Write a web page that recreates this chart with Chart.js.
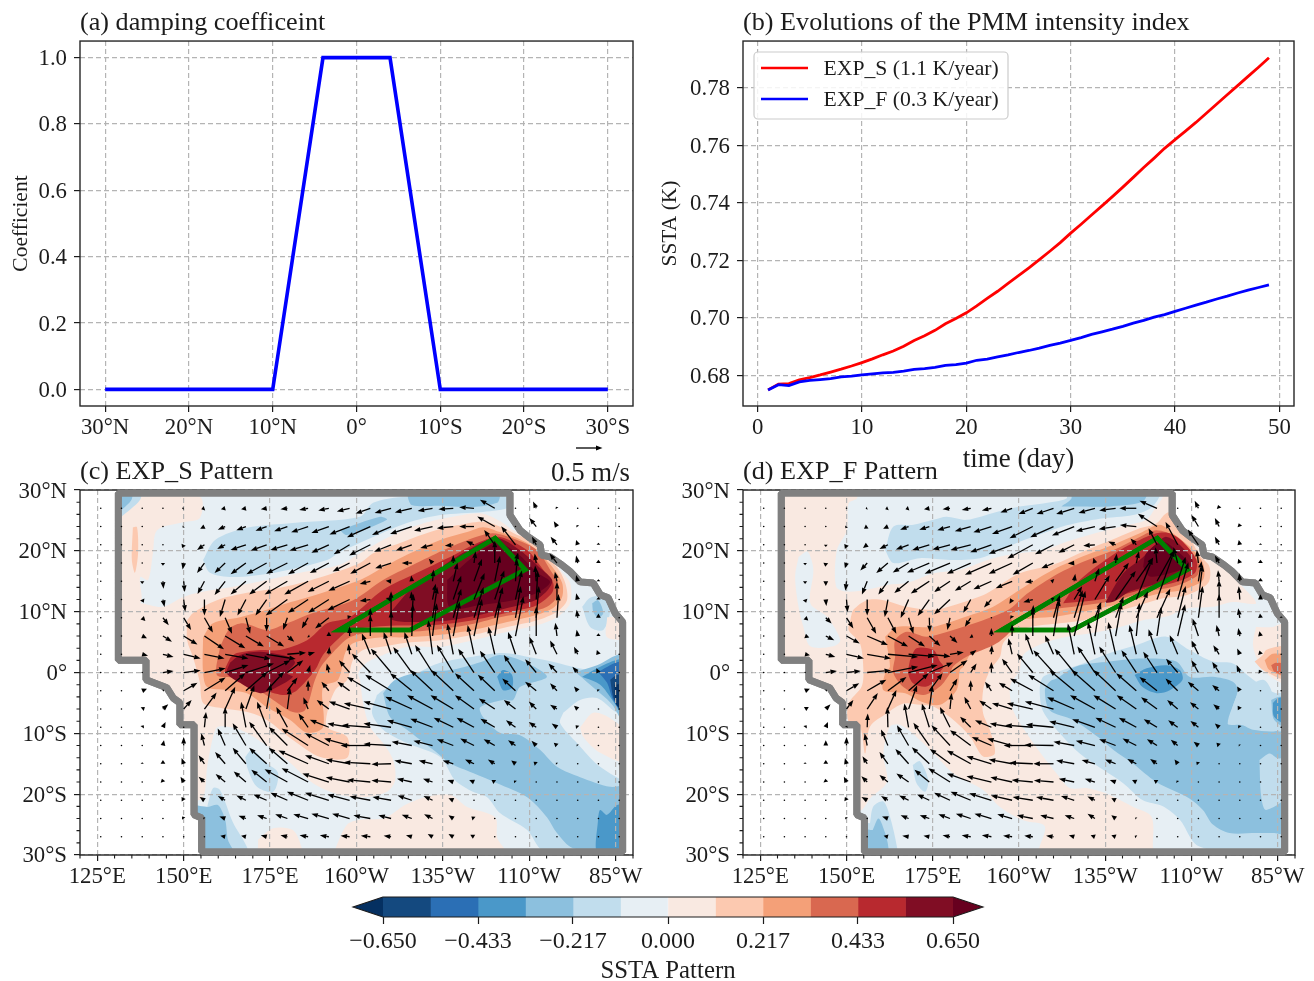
<!DOCTYPE html>
<html><head><meta charset="utf-8">
<script src="https://cdn.jsdelivr.net/npm/chart.js@4/dist/chart.umd.min.js"></script>
<style>
html,body{margin:0;padding:0;background:#fff;overflow:hidden}
#page{position:relative;width:1314px;height:981px;overflow:hidden}
canvas{position:absolute}
</style></head><body><div id="page">
<canvas id="pa" style="left:0;top:0" width="657" height="449"></canvas>
<canvas id="pb" style="left:657px;top:0" width="657" height="480"></canvas>
<canvas id="pc" style="left:0;top:440px" width="657" height="455"></canvas>
<canvas id="pd" style="left:657px;top:440px" width="657" height="455"></canvas>
<canvas id="pe" style="left:0;top:885px" width="1314" height="101"></canvas>
</div>
<script>
// ---------- panel (a)
const DAMP_LAT=[30,10,4,-4,-10,-30];
const DAMP_COEF=[0,0,1,1,0,0];
const LAT_TICKS_A=[30,20,10,0,-10,-20,-30];
const COEF_TICKS=[0,0.2,0.4,0.6,0.8,1.0];
// ---------- panel (b)
const DAYS=[1,2,3,4,5,6,7,8,9,10,11,12,13,14,15,16,17,18,19,20,21,22,23,24,25,26,27,28,29,30,31,32,33,34,35,36,37,38,39,40,41,42,43,44,45,46,47,48,49];
const EXP_S=[.6750,.6770,.6772,.6785,.6793,.6802,.6812,.6822,.6833,.6845,.6858,.6872,.6885,.6902,.6922,.6938,.6957,.6980,.6998,.7018,.7042,.7068,.7093,.7120,.7147,.7174,.7203,.7232,.7262,.7295,.7326,.7358,.7390,.7422,.7455,.7489,.7523,.7556,.7590,.7620,.7650,.7680,.7712,.7744,.7776,.7808,.7840,.7872,.7905];
const EXP_F=[.6750,.6768,.6765,.6778,.6783,.6786,.6789,.6795,.6798,.6802,.6806,.6809,.6811,.6815,.6821,.6824,.6828,.6835,.6838,.6843,.6853,.6857,.6865,.6872,.6880,.6887,.6895,.6905,.6913,.6922,.6932,.6943,.6952,.6961,.6971,.6982,.6992,.7003,.7012,.7023,.7034,.7045,.7055,.7066,.7076,.7087,.7097,.7106,.7115];
const DAY_TICKS=[0,10,20,30,40,50];
const SSTA_TICKS=[.68,.70,.72,.74,.76,.78];
const LEGEND_LABELS=['EXP_S (1.1 K/year)','EXP_F (0.3 K/year)'];
// ---------- maps
const LON_TICKS=[125,150,175,200,225,250,275];
const LON_MINOR=[120,130,135,140,145,155,160,165,170,180,185,190,195,205,210,215,220,230,235,240,245,255,260,265,270,280];
const LAT_TICKS=[30,20,10,0,-10,-20,-30];
const LAT_MINOR=[28,26,24,22,18,16,14,12,8,6,4,2,-2,-4,-6,-8,-12,-14,-16,-18,-22,-24,-26,-28];
const OUTLINE=[131.1,29.5,131.1,2,139.1,2,139.1,-1.2,145.1,-2.5,147,-4.2,148.9,-5,148.9,-8.6,153,-8.6,153,-23.4,155.2,-23.9,155.2,-29.5,277,-29.5,277,8.3,274.8,9.8,272.8,12.3,270.5,12.8,268.5,14.7,264.7,14.9,261.8,16.6,259.4,17.7,256,19,253.6,19.3,253.1,21,249.7,22.3,247.3,23.4,245.9,24.6,244.4,25.9,244.4,29.5,131.1,29.5];
const BOX=[120,30,280,30,280,-30,120,-30,120,30];
const GREEN_BOX=[195,7,215.5,7,248.8,16.9,240.1,22.1,195,7,215.5,7];
// colour bins: index 0 = below -0.65 ... 13 = above 0.65
const BIN_COLORS=['#053061','#14497f','#2b6fb5','#4a98c9','#8cc0de','#c1dded','#e7eff4','#f9e9e1','#fcc9b0','#f4a078','#d96850','#b8292f','#800d24','#67001f'];
const LEVELS=[-0.65,-0.5417,-0.4333,-0.325,-0.2167,-0.1083,0,0.1083,0.2167,0.325,0.4333,0.5417,0.65];
const CB_TICKS=[-0.65,-0.4333,-0.2167,0,0.2167,0.4333,0.65];
const CB_LABELS=['\u22120.650','\u22120.433','\u22120.217','0.000','0.217','0.433','0.650'];
// contour regions: [bin, [lon,lat,...]] painted in order
const CONTOURS_C=[
[7,[128,28.4,137.4,28.9,154.7,28.9,154.7,25.4,149.8,24.7,142.3,23.4,141.1,19.6,139.7,15.2,137.4,15.7,137.4,11.4,128,11.4]],
[7,[128,11.5,137.4,11.4,144,10.8,149.8,12.4,154.7,13.2,164.3,14.1,174.1,15.2,183.7,16.4,195.2,17.7,201,19.6,207.7,21.8,215.5,23.8,223.3,25.1,230.8,25.9,236.6,26.1,242.4,24.6,245.3,23.4,251.7,21.8,256,20.1,258.9,16.9,261.8,14.7,261.8,11.4,258,9.1,252.3,7.8,243.6,6.7,233.7,5.3,224.2,4.2,214.6,4.2,207.7,2.9,203.1,1.7,200.5,-0.1,201,-1.2,201.9,-5,203.9,-8.9,207.7,-11.6,210.6,-14.4,211.2,-17.7,208.8,-19.6,201.9,-20.5,195.2,-20.1,187.4,-18.2,179.9,-14.4,173,-11.6,166.3,-9.4,159.9,-8.9,158.5,-10.6,156.8,-15.5,155.6,-20.5,151.8,-21,150.4,-8.6,146,-4.5,137.4,0.4,128,2]],
[7,[193.8,-30.5,193.8,-29.2,197.3,-25,201,-24.2,208.3,-23.9,214,-21.8,219.8,-20.5,227.1,-20.1,232,-22.1,240.1,-23.8,240.7,-27.2,243,-29.2,243,-30.5]],
[7,[171.5,-27.5,175.9,-25.6,181.6,-25.9,184.2,-28.9,184.2,-30.5,172.1,-30.5]],
[5,[155.6,18.5,159.1,21.8,168.3,23.8,181.6,24.6,201,25.6,204.8,27.9,214.6,28.9,243.6,28.9,244.4,27.2,236.6,26.4,224.2,25.9,214.6,24.6,204.8,22.3,195.2,19.8,191.5,18.5,177,16.5,164.3,15.7,157.6,16.4]],
[4,[214.9,30,214.9,28.7,216.1,27.5,224.2,27.4,233.7,27.2,240.7,27.9,241.5,28.9,241.5,30]],
[4,[195.2,23.4,206.8,25.6,208.8,25.1,197.3,22.6]],
[5,[132,25.6,137.4,28.4,137.4,30,128,30,128,25.6]],
[4,[132,26.7,134.9,28.4,134.9,30,128,30,128,26.7]],
[8,[135.3,23.9,136.5,23.9,136.8,19.6,135.9,16.4,135,18.5]],
[5,[205.9,-3.7,207.7,-2.9,217.5,-0.1,224.2,1.6,233.7,2.6,242.4,3.2,250.2,2.5,258,1.6,262.7,0.9,269.6,0.4,275.4,2.6,279.2,2.6,279.2,-30,254,-29.2,249.4,-25.9,241.5,-23.1,237.8,-20.5,233.7,-19.6,228.5,-17.7,224.2,-13.9,214.6,-11.6,207.7,-9.4,204.5,-6.7]],
[6,[259.8,-6.6,264.7,-4.5,269.6,-4.2,275.4,-6.6,279.2,-6.6,279.2,-17.7,270.5,-15.5,263.8,-11.6,258.9,-8.3]],
[7,[264.7,-9,268.5,-6.6,273.4,-7.5,279.2,-10.6,279.2,-14.9,270.5,-13.2,265.6,-10.6]],
[4,[207.7,-3.4,211.2,-1.2,218.4,0.1,227.1,0.4,235.8,1.7,241.5,2.9,248.8,1.7,255.1,-0.7,247.3,-2.4,245.3,-4.5,242.4,-4.5,235.8,-5.7,236.6,-7.3,241.5,-9.9,247.3,-10.3,253.1,-12.7,258,-15.5,264.7,-17.2,273.4,-18.8,279.2,-18.8,279.2,-30,262.7,-28.9,258,-26.4,255.1,-23.8,249.4,-20.5,240.7,-18.2,233.7,-16.5,227.1,-14.9,222.2,-12.7,214.6,-9.4,209.7,-7.3]],
[3,[240.7,-0.7,242.4,0.4,245,-0.4,245,-2.5,242.4,-2.9]],
[3,[269.9,-23.8,270.5,-22.6,272.5,-23.4,275.4,-21.8,279.2,-21.8,279.2,-30,269.9,-30]],
[4,[263.3,0.1,269.6,1.2,275.4,2.9,279.2,2.9,279.2,-10.3,274,-5.3,267.6,-2]],
[3,[265.3,-0.7,269.6,0.7,275.4,2.1,279.2,2.1,279.2,-8.6,274,-4.5,270.5,-2]],
[2,[269.9,0.1,275.4,1.7,279.2,1.7,279.2,-8.1,274.3,-4.5,272.5,-1.7]],
[1,[273.4,-1.2,275.4,-0.4,279.2,-0.4,279.2,-7.8,274.6,-4.5]],
[0,[274.6,-2,279.2,-2,279.2,-7,275.2,-5.3]],
[5,[265.3,10.8,267.6,12.3,271.4,12.4,273.4,10.3,271.4,7,267.6,7.5]],
[4,[268.2,11.4,269.9,11.9,271.4,9.8,269.9,9,268.5,10]],
[7,[272.5,9.1,279.2,9.1,279.2,5.7,272.5,5.8]],
[5,[156.8,-22.1,158.5,-19,160.5,-19.3,164.3,-24.7,168.3,-28.7,168.3,-30.5,150,-30.5,150,-22.1]],
[4,[157,-22.1,159.9,-21.8,162,-24.2,162.8,-27.5,164.9,-30.5,150,-30.5,150,-22.1]],
[5,[167.8,-13.9,169.8,-12.7,174.1,-14.9,177.3,-16.5,175.9,-19.6,171.2,-18.8,168.6,-16]],
[8,[151,8.6,152.7,9.8,159.6,11.9,168.3,13.1,174.1,13.6,181.6,14.4,191.5,16,201,18,204.8,19.6,212.6,21.3,221.3,23.1,229.1,24.2,236.6,24.8,242.4,23.8,246.5,22.6,250.2,21.8,258,17.3,260.4,14.7,260.9,11.9,258,10,252.3,8.6,243.6,7.5,233.7,6.2,224.2,5.3,214.6,4.9,206.8,4.2,201.9,3.7,199,2.1,197.3,-1.2,193.8,-2.9,191.5,-6.7,191.5,-9,197.3,-10.6,197.3,-14,189.5,-13.9,181.6,-11.1,174.1,-7.8,169.2,-6.6,160.5,-5.8,155.6,-5,154.7,-1.7,152.7,2.5,151,5.3]],
[9,[155.6,5.8,158.5,8.1,166.3,9.1,172.1,10,179.9,11.4,189.5,13,201,15.2,207.7,17.3,215.5,19.6,224.2,21.8,232,23.1,236.6,23.9,241.5,23.1,246.5,22.1,251.1,20.6,256.9,17.2,259.5,14.7,259.5,12.4,256.9,10.6,252.3,9.5,243.6,8.3,233.7,7,224.2,6.2,214.6,5.8,206,5.7,199,4.8,196.7,3.2,194.7,-1.2,190.3,-2.4,190.3,-9,185.7,-9.9,180.8,-7.8,174.1,-5.7,168.3,-3.4,162.5,-2.9,156.8,-2.4,155.6,0.1]],
[10,[160.5,4.2,163.4,7.3,167.2,8.1,174.1,7,179.9,8.1,187.4,9.8,199,11.9,207.7,15.2,216.4,17.7,225.1,20.1,233.7,22.1,239.5,22.9,246.5,21.8,252.3,20.1,256,16.9,258.3,14.7,258,12.4,255.1,10.8,250.2,10,241.5,9.1,232,7.8,222.2,7,214.6,6.7,204.8,6.7,198.1,5.8,195.2,4.5,190,1.2,188,-1.2,185.1,-6.2,181.6,-6.5,175.9,-4.5,173,-3.4,164.9,-0.9,159.6,-0.4]],
[11,[163.4,2.4,165.4,3.2,172.1,3.7,177.9,3.7,185.7,5.3,191.5,8.1,198.1,9.1,207.7,13.6,217.5,16.4,227.1,19,235.8,21.5,241.5,22.3,249.4,20.1,254,16.9,256.9,14.7,256.6,13.1,252.3,11.1,247.3,10.3,233.7,8.6,222.2,7.8,209.7,7.7,198.1,7,195.2,5.8,190.3,2.9,188,0.4,182.8,-2.9,179.3,-3.7,173.5,-2.9,166.3,-1.2,162,0.1]],
[12,[209.7,9.8,216.4,14.1,226.2,18,233.7,20.6,240.7,22.1,247.3,20.1,253.1,17.2,256.6,15.2,255.4,13.6,251.7,11.9,243.6,10.6,235.8,9.5,227.1,8.6,217.5,8.3,210.6,8.6]],
[13,[226.2,15.2,233.7,19,240.7,21.3,246.5,19.6,252.3,16.4,256,14.9,252.3,13.1,245.3,11.9,235.8,11.1,227.1,10.6]],
[12,[163.4,1.6,166.3,2.9,172.1,3.4,180.8,2.5,182.2,1.6,179.9,-0.1,181.6,-0.7,177,-2.4,172.1,-3.4,166.3,-1.7,162.5,-0.1]]
];
const CONTOURS_D=[
[7,[128,30,153,30,153,28.6,150.6,27.8,150.1,23.4,147.2,20.1,147,14.1,150.1,13.3,155.9,13.6,161.7,14.4,167.5,14.7,175.2,16.3,182.9,16.9,192.5,18.8,200.2,19.6,207,20.1,213.8,21.5,223.4,23.1,231.1,24.2,236.9,25.1,239.8,27.3,241.7,28.9,241.7,30,245.6,30,246.6,25.1,254.3,19,262,16.3,263.9,14.7,268.7,11.4,262,11.6,256.2,10.8,248.5,10.5,242.7,9.2,235.9,8.6,228.2,7.3,220.5,6.4,213.8,5.9,207,4.8,201.2,2.9,200.2,0.4,197.4,-2.3,198.3,-6.2,202.2,-10,207,-13.8,210.9,-16.6,214.7,-19,219.5,-19,225.3,-19.9,233.1,-22.1,238.4,-23.7,238.8,-28.6,238.8,-30.3,206,-30.3,207.5,-25.3,201.2,-24.3,194.5,-22.1,189.6,-19.3,181,-16.6,176.1,-13.8,170.3,-10.6,165.5,-8.6,162.6,-8.9,160.7,-13.3,161.7,-18,156.8,-20.7,154.4,-22.6,152,-22.6,151.5,-8.9,149.1,-5.1,137.5,-0.7,130.8,0.4,128,2]],
[6,[136.1,19,138.7,19.9,140.4,16.9,139.5,11.4,144.3,9.2,148.2,5.3,146.2,4.3,139.5,4.3,137.5,7.5,136.1,10.8,135.1,15.8]],
[5,[161.2,20.1,163.6,24,169.4,24.3,175.2,25.1,179,25.6,184.8,25.1,193.5,26.4,200.2,27.3,207,27.8,213.8,28.6,213.8,30,240.8,30,238.8,27.3,233.1,25.9,223.4,25.3,213.8,24.2,207,22.9,200.2,21.5,194.5,20.1,188.7,18.8,180,18.5,171.3,18.8,163.6,18]],
[4,[212.3,27.3,215.2,28.6,215.2,30,236.9,30,235.9,28.1,226.3,27.3,218.6,27.3]],
[5,[210.9,0.1,218.6,1.5,226.3,3.2,234,4.5,242.7,5.9,249.4,3.7,256.2,1.8,262,1.5,266.8,-0.7,270.7,-2.3,274.5,-3.4,278.4,-3.4,278.4,-30.3,252.3,-28.6,246.6,-24.2,241.7,-22,235.9,-21,230.2,-18.2,224.4,-16,217.6,-13.3,212.8,-10.6,207,-6.4,206,-2.9,207,-0.7]],
[4,[210.9,-1,216.6,1,226.3,1.8,235.9,2.3,245.6,1.8,249.4,-0.7,256.2,-0.7,262,-1.5,263.4,-2.9,260.5,-8.4,263.9,-8.6,275.5,-9.7,278.4,-9.7,278.4,-26.4,273.6,-26.4,268.7,-26.4,261,-26.4,256.2,-25,253.3,-22.6,249.4,-20.7,239.8,-18,233.1,-15,227.3,-12.7,223.4,-10.8,215.7,-7.8,208.9,-6.2,207.5,-2.9,208.9,-1.5]],
[5,[260.5,-8.4,263,-4,264.9,-2.9,270.7,-1.2,273.1,-2.9,273.6,-6.2,275.5,-9.4,267.8,-9.4,263.9,-8.4]],
[5,[269.7,-14.4,272.6,-13.3,275,-14.1,278.4,-14.1,278.4,-19.9,271.6,-22.6,270.2,-20.4]],
[4,[273.1,-4.5,275.5,-4,278.4,-4,278.4,-9.2,274,-7.8]],
[3,[273.6,-5,275.3,-4.2,278.4,-4.2,278.4,-8.6,274,-7.3]],
[3,[233.5,-0.4,237,0.7,242.8,1.2,246.6,0.4,247.4,-1.2,243.7,-2.9,239.9,-3.4,235.8,-2.4]],
[5,[156.8,-24.8,157.8,-22,160.7,-21.2,162.6,-23.7,164.6,-28.6,164.6,-30.3,153.9,-30.3,153.9,-24.8]],
[4,[157.6,-25.9,159.3,-24,161.2,-26.4,162.1,-28.6,162.1,-30.3,153.9,-30.3,153.9,-25.9]],
[5,[169.2,-15.2,171.3,-14.6,173.7,-17.7,172.8,-19.6,170.3,-18.2]],
[8,[151.1,8.6,152,10.3,155.9,11.9,160.7,11.9,167.5,10.8,175.2,10.3,182.9,11.4,190.6,13,200.2,16.3,209.9,17.7,219.5,20.1,228.2,22.1,235,23.7,239.8,24.5,242.7,26.2,245.6,26.2,252.3,19.3,255.2,17.4,254.8,14.7,248.5,12.7,241.7,12.2,235,11.1,226.3,9.7,218.6,8.6,211.8,8.1,203.1,7.5,198.3,6.4,195.4,4.8,194.5,2.6,191.6,0.4,189.6,-2.9,189.6,-6.7,191.6,-9.5,193,-13.3,189.6,-13.8,185.8,-10.5,181,-7.8,175.2,-5.6,171.3,-5.3,166.5,-5.1,161.7,-6.7,156.8,-8.9,155.4,-13.3,153.9,-8.9,150.6,-8.1,150.6,-5.1,154.4,-2.3,154.9,0.4,153.9,4.8,150.6,7]],
[9,[161.2,5.9,164.6,7.5,170.3,7.5,175.2,7.5,184.8,9.2,192.5,10.8,200.2,13.6,209.9,16.9,219.5,19.3,227.3,21,235,22.9,240.8,24.3,244.6,22.9,249.4,20.7,253.3,18,253.3,15.2,247.5,13.6,240.8,13,233.1,11.9,225.3,10.8,218.6,10,210.9,9.2,204.1,8.9,198.3,8.4,194.5,6.4,190.6,4.8,186.7,3.7,183.9,1,182.9,0.4,181.9,-2.9,177.1,-5.3,171.8,-4.8,167,-3.4,160.7,-2.9,161.2,-0.1,162.6,1]],
[10,[164.1,2.6,164.1,5.3,167.5,6.7,173.2,5.9,180.9,7,189.6,8.6,197.4,10.5,202.2,12.9,209.9,15.8,218.6,18.2,227.3,20.1,235,22.3,239.8,23.4,245.6,22.3,250.4,19.6,252.3,17.4,251.4,15.8,244.6,14.1,236.9,13.3,228.2,11.9,219.5,11.1,210.9,10.5,204.1,10,197.4,9.7,198.3,7.5,193.5,4.8,184.8,2.6,180.9,1,180,-0.1,177.1,-2.3,172.3,-3.7,167,-2.6,163.6,-0.1]],
[11,[168.4,2,170.3,4,175.2,3.7,177.1,1.8,178.1,1,177.1,0,177.1,-0.7,173.2,-2.3,169.4,-1.8,167.9,-0.1]],
[11,[212.8,11.4,217.6,15.2,229.2,20.1,235,21.8,239.8,22.9,243.7,22.9,247.5,21.5,251.4,18.5,250.9,16.3,244.6,14.7,236.9,13.8,228.2,12.5,219.5,11.7]],
[12,[224.9,11.4,230.2,16.3,236,19,239.8,21.2,242.7,22.3,246.6,21,250.4,18,244.6,15.5,238.8,14.4,232.1,13.3,227.7,11.7]],
[13,[236,17.4,236.9,19.6,241.7,21.5,245.6,20.1,249.4,17.7,243.7,16.3,237.9,15.8]],
[7,[268.7,7.5,273.6,7.5,276,8,278.4,8,278.4,-1.8,271.6,-0.1,268.7,2.6,267.8,4.8]],
[8,[268.3,1.8,270.7,2.9,271.6,3.7,275.5,4.3,278.4,4.3,278.4,-1.2,270.7,0.4]],
[9,[271.2,2,273.6,3.1,278.4,2.6,278.4,-0.7,272.6,0.4]],
[10,[273.1,1.2,274.5,1.6,278.4,1.2,278.4,-0.4,274.1,0.1]]
];
// wind vectors in cm/s on the lon/lat grid
const Q_LONS=[126,132,138,144,150,156,162,168,174,180,186,192,198,204,210,216,222,228,234,240,246,252,258,264,270,276];
const Q_LATS=[27,24,21,18,15,12,9,6,3,0,-3,-6,-9,-12,-15,-18,-21,-24,-27];
const U_C=[
[0,0,-1,-2,-3,-6,-8,-9,-11,-13,-17,-20,-24,-28,-31,-32,-28,-28,-28,-28,0,-6,-2,-1,0,0],
[0,0,0,-1,-2,-8,-14,-18,-21,-25,-32,-33,-38,-44,-36,-41,-35,-31,-28,-33,0,-13,-6,-2,-1,0],
[0,0,0,-1,-3,-14,-15,-29,-30,-32,-35,-33,-30,-40,-32,-30,-23,-16,-15,-20,-27,-8,-12,-3,0,0],
[0,0,0,0,-2,-14,-20,-29,-38,-40,-38,-36,-32,-38,-30,-19,-7,0,3,0,5,-3,-14,-3,0,0],
[0,0,0,1,2,-13,-20,-29,-33,-43,-45,-40,-40,-20,-10,-1,2,8,15,10,3,-2,-4,-3,0,0],
[0,0,3,3,3,0,-10,-16,-21,-41,-38,-39,-42,-20,-10,-1,6,15,20,18,12,3,0,-3,0,0],
[0,0,6,11,14,16,13,8,0,-8,-12,-26,-4,0,0,3,9,15,18,15,10,5,3,-2,0,0],
[0,0,9,17,26,37,38,34,33,13,3,0,0,0,0,2,8,12,15,10,15,0,-3,-2,0,0],
[0,0,11,20,32,38,44,47,55,35,13,1,-2,-16,-14,-14,-8,-11,-12,-12,-14,-13,-13,-7,-3,0],
[0,1,2,20,32,40,44,53,45,30,4,-4,-20,-35,-38,-35,-33,-31,-30,-28,-22,-21,-16,-10,-4,0],
[0,0,9,2,26,40,38,41,33,19,0,-14,-23,-44,-49,-41,-42,-42,-36,-32,-25,-21,-13,-7,-2,0],
[0,0,5,10,15,23,19,16,8,5,-9,-23,-39,-50,-52,-50,-48,-43,-36,-30,-22,-14,-13,-7,-1,0],
[0,0,3,5,1,3,0,-9,-18,-21,-18,-36,-42,-54,-52,-47,-42,-37,-33,-27,-18,-14,-10,-4,-1,0],
[0,0,0,2,0,-6,-14,-25,-33,-35,-50,-45,-48,-56,-52,-38,-36,-31,-26,-21,-14,-9,-6,-2,0,0],
[0,0,0,0,-4,-11,-19,-25,-33,-35,-56,-45,-45,-50,-37,-33,-26,-20,-17,-13,-8,-5,-2,-1,0,0],
[0,0,0,-2,-6,-11,-18,-23,-29,-43,-50,-50,-45,-44,-37,-28,-18,-11,-9,-6,-3,-1,0,0,0,0],
[0,0,0,0,-4,-9,-14,-18,-25,-32,-40,-45,-42,-39,-35,-27,-17,-9,-1,0,0,0,0,0,0,0],
[0,0,0,0,-3,-2,-11,-14,-18,-23,-28,-33,-33,-32,-24,-19,-16,-9,-5,-1,0,0,0,0,0,0],
[0,0,0,0,-1,0,-9,-9,-11,-13,-16,-17,-17,-18,-14,-11,-9,-9,-7,-1,0,0,0,0,0,0]];
const V_C=[
[0,0,0,0,-1,-2,-2,-2,-2,-2,-3,-4,-6,-10,-9,-8,-5,-2,2,16,0,13,3,1,0,0],
[0,0,0,-1,-2,-4,-6,-7,-8,-9,-11,-12,-15,-20,-16,-14,-8,-3,0,19,0,16,10,3,1,0],
[0,0,0,-1,-6,-10,-8,-10,-11,-10,-11,-15,-18,-20,-13,-11,-6,-2,7,28,35,15,15,9,4,0],
[0,0,0,-5,-12,-19,-19,-21,-21,-20,-21,-19,-16,-20,-10,0,8,15,22,42,20,18,18,14,6,1],
[0,0,-5,-14,-20,-24,-26,-25,-25,-25,-25,-20,-18,-5,1,11,22,35,42,48,42,30,18,12,4,0],
[0,0,-6,-14,-23,-30,-33,-30,-30,-30,-25,-25,-20,-3,3,15,30,45,50,55,55,55,33,12,5,1],
[0,0,-6,-14,-23,-28,-30,-30,-26,-23,-20,-20,5,18,50,45,58,55,58,58,60,60,45,15,8,2],
[0,0,-4,-11,-16,-25,-23,-20,-20,-11,-2,8,18,40,47,60,62,65,70,65,75,55,25,12,5,1],
[0,0,-3,-5,-8,-8,-8,-9,-9,3,4,14,20,39,42,42,64,58,55,52,42,33,26,14,8,0],
[0,0,0,3,4,8,14,17,23,23,14,17,23,36,45,48,52,52,45,41,33,25,17,11,8,0],
[0,0,4,2,15,25,33,36,36,25,20,17,17,26,30,33,39,39,33,30,23,17,14,8,3,0],
[0,0,4,9,17,31,42,45,48,40,22,17,14,11,14,23,26,26,26,20,17,14,8,6,2,0],
[0,0,4,10,2,29,38,48,48,38,26,14,7,4,7,13,16,18,18,16,13,10,7,4,1,0],
[0,0,1,10,16,23,32,42,45,35,32,23,13,0,3,7,9,12,13,12,10,9,5,2,0,0],
[0,0,3,7,11,16,22,30,30,30,25,16,8,3,-1,6,6,6,8,8,6,4,2,1,0,0],
[0,0,1,6,10,10,15,20,23,24,26,16,9,4,3,6,6,4,4,4,3,1,0,0,0,0],
[0,0,0,2,6,6,8,9,11,14,16,14,11,7,6,9,8,4,1,0,0,0,0,0,0,0],
[0,0,0,0,4,2,4,5,6,8,8,9,9,6,6,7,8,6,4,1,0,0,0,0,0,0],
[0,0,0,0,1,0,2,2,3,3,3,3,2,2,2,3,5,5,4,1,0,0,0,0,0,0]];
const U_D=[
[0,0,0,-1,-2,-3,-5,-6,-10,-14,-17,-18,-22,-27,-32,-34,-31,-31,-32,-33,0,-7,-2,-1,0,0],
[0,0,0,0,-2,-6,-9,-16,-19,-24,-30,-34,-38,-44,-44,-42,-36,-32,-31,-36,0,-13,-8,-2,-1,0],
[0,0,0,0,-3,-8,-16,-24,-32,-33,-38,-40,-44,-48,-35,-30,-22,-14,-11,-16,-23,-20,-8,-2,0,0],
[0,0,0,-1,-3,-13,-22,-30,-42,-48,-45,-50,-44,-38,-23,-12,-3,2,5,-3,-8,-3,-8,-3,0,0],
[0,0,0,0,-2,-10,-18,-27,-35,-30,-30,-34,-31,-15,-6,2,8,25,32,33,15,6,-2,-1,0,0],
[0,0,2,1,2,0,-6,-15,-22,-30,-14,-14,-5,-18,-5,15,28,38,31,33,20,8,0,-2,0,0],
[0,0,6,11,13,17,16,9,1,-5,-11,1,-3,1,12,16,12,15,22,25,15,8,0,-3,-1,0],
[0,0,8,16,25,39,38,31,21,14,5,0,0,0,11,21,10,11,6,8,14,-11,-5,-3,-2,-1],
[0,0,9,18,33,45,57,49,40,26,11,1,-7,-14,-16,-12,-13,-14,-13,-16,-15,-13,-11,-5,-2,0],
[0,1,2,21,27,45,57,55,45,33,11,0,-19,-30,-38,-37,-33,-31,-28,-26,-22,-13,-13,-6,-3,0],
[0,0,9,2,24,36,35,38,25,14,0,-12,-25,-43,-48,-47,-44,-42,-38,-33,-23,-20,-13,-5,-1,0],
[0,0,7,9,13,20,16,16,6,3,-12,-23,-38,-49,-54,-51,-47,-42,-37,-30,-20,-16,-11,-4,-1,0],
[0,0,3,4,1,1,-1,-8,-14,-19,-20,-31,-42,-52,-52,-47,-43,-38,-33,-25,-18,-15,-8,-3,-1,0],
[0,0,0,0,0,-5,-13,-22,-30,-35,-39,-37,-47,-55,-55,-39,-36,-31,-26,-19,-13,-9,-5,-2,0,0],
[0,0,0,0,-3,-9,-16,-25,-33,-38,-45,-47,-44,-44,-38,-34,-25,-20,-17,-13,-6,-4,-1,0,0,0],
[0,0,0,-1,-5,-11,-16,-23,-28,-41,-45,-47,-41,-40,-37,-29,-19,-11,-8,-6,-2,-1,0,0,0,0],
[0,0,0,0,-3,-11,-13,-18,-23,-30,-38,-42,-40,-38,-33,-25,-14,-8,-1,0,0,0,0,0,0,0],
[0,0,0,0,-2,-1,-11,-15,-18,-22,-28,-32,-28,-30,-25,-18,-14,-8,-2,0,0,0,0,0,0,0],
[0,0,0,0,0,0,-8,-12,-11,-14,-17,-18,-17,-16,-14,-10,-8,-8,-3,0,0,0,0,0,0,0]];
const V_D=[
[0,0,0,0,0,-1,-2,-2,-2,-2,-3,-4,-8,-11,-11,-11,-9,-4,0,14,0,14,6,1,0,0],
[0,0,0,-1,-3,-4,-4,-6,-6,-7,-9,-11,-14,-22,-20,-17,-9,-5,3,24,0,22,16,6,1,0],
[0,0,-1,-4,-8,-6,-8,-9,-10,-9,-10,-14,-17,-26,-18,-15,-2,6,12,31,43,29,15,9,3,0],
[0,0,-4,-7,-10,-14,-19,-18,-18,-20,-20,-22,-20,-22,-10,-1,10,18,22,30,30,25,14,8,6,1],
[0,0,-5,-9,-18,-25,-25,-22,-23,-20,-18,-15,-13,-2,2,14,25,35,45,59,46,38,21,15,6,1],
[0,0,-6,-12,-24,-30,-33,-35,-31,-28,-25,-15,-8,-5,3,25,46,54,78,93,70,65,37,25,10,2],
[0,0,-5,-11,-20,-30,-30,-30,-27,-23,-17,-1,5,24,43,52,30,40,50,55,60,60,45,18,8,3],
[0,0,-3,-8,-14,-17,-20,-20,-19,-13,-3,15,22,53,69,85,63,63,63,55,60,33,21,15,9,2],
[0,0,-2,-5,-8,-8,-5,-4,-4,4,8,17,30,39,36,58,61,61,55,47,36,26,17,11,7,0],
[0,0,0,3,3,4,11,14,19,23,17,20,26,36,42,45,49,49,42,39,26,23,20,14,5,0],
[0,0,4,2,14,21,26,33,33,23,20,17,15,23,30,39,39,39,33,26,23,17,11,8,2,0],
[0,0,4,9,17,30,36,45,45,30,23,16,11,11,14,22,26,26,26,22,17,13,9,6,1,0],
[0,0,4,10,3,26,38,45,45,38,20,13,7,4,5,11,15,18,18,15,13,12,7,4,2,0],
[0,0,1,10,16,23,30,38,43,38,29,16,13,0,1,7,9,12,13,12,11,7,5,2,0,0],
[0,0,3,7,11,14,22,28,31,28,25,14,8,2,0,6,7,8,9,9,8,4,2,0,0,0],
[0,0,0,6,10,11,13,16,23,26,16,11,9,4,3,6,6,4,4,4,3,1,0,0,0,0],
[0,0,0,1,6,6,8,9,11,14,16,13,9,6,6,8,7,4,1,0,0,0,0,0,0,0],
[0,0,0,0,3,2,4,6,6,8,9,9,8,6,6,6,9,6,2,0,0,0,0,0,0,0],
[0,0,0,0,0,0,2,2,2,3,3,3,2,2,2,3,3,3,2,0,0,0,0,0,0,0]];
const KEY_CMS=50;

// ---------- shared style
const SERIF='"Liberation Serif","Times New Roman",serif';
const INK='#1c1c1c';
const PX_PER_CMS=0.53;
Chart.defaults.animation=false;
Chart.defaults.responsive=false;
Chart.defaults.color=INK;
Chart.defaults.font.family=SERIF;
const GRID={color:'#b4b4b4',lineWidth:1.2,tickColor:'#1c1c1c',tickLength:6,tickWidth:1.2};
const fixH=h=>s=>{s.height=h};
const fixW=w=>s=>{s.width=w};
const setTicks=vals=>a=>{a.ticks=vals.map(v=>({value:v}))};
const pairs=f=>{const o=[];for(let i=0;i<f.length;i+=2)o.push({x:f[i],y:f[i+1]});return o};
const closed=f=>pairs(f.concat(f.slice(0,2)));
const latLabel=v=>v===0?'0\u00b0':Math.abs(v)+'\u00b0'+(v>0?'N':'S');
const lonLabel=v=>v<=180?v+'\u00b0E':(360-v)+'\u00b0W';
const titleOpt=(t,top)=>({display:true,text:t,align:'start',fullSize:false,color:INK,font:{size:26.2,weight:'normal',family:SERIF},padding:{top:top,bottom:9.6-top+(top>10?9:0)}});
const axisCommon=(vals,cb,fit,isY)=>({grid:Object.assign({},GRID),border:{display:false,dash:[5,3]},afterBuildTicks:setTicks(vals),ticks:{autoSkip:false,maxRotation:0,minRotation:0,padding:isY?7:2,labelOffset:isY?1.5:0,font:{size:22.8},color:INK,callback:cb},...fit});
const framePlugin={id:'frame',afterDraw(c){const a=c.chartArea,x=c.ctx;x.save();x.strokeStyle='#262626';x.lineWidth=1.4;x.strokeRect(a.left,a.top,a.width,a.height);x.restore()}};

function drawArrow(x,x0,y0,dx,dy){
  const len=Math.hypot(dx,dy);
  if(len<1.2){x.beginPath();x.arc(x0,y0,0.8,0,7);x.fill();return}
  const ux=dx/len,uy=dy/len,hl=Math.min(6.5,len),hw=2.4*Math.min(1,len/5+0.35);
  const bx=x0+dx-ux*hl,by=y0+dy-uy*hl;
  if(len>hl){x.beginPath();x.moveTo(x0,y0);x.lineTo(bx,by);x.stroke()}
  x.beginPath();x.moveTo(x0+dx,y0+dy);x.lineTo(bx-uy*hw,by+ux*hw);x.lineTo(bx+uy*hw,by-ux*hw);x.closePath();x.fill();
}

// ---------- (a)
new Chart(document.getElementById('pa'),{type:'line',
 data:{datasets:[{data:DAMP_LAT.map((v,i)=>({x:v,y:DAMP_COEF[i]})),borderColor:'#0000ff',borderWidth:3.6,pointRadius:0,tension:0,borderJoinStyle:'miter'}]},
 options:{layout:{padding:{left:8,right:24,top:0,bottom:3}},
  plugins:{legend:{display:false},tooltip:{enabled:false},title:titleOpt('(a) damping coefficeint',7.4)},
  scales:{x:{type:'linear',reverse:true,min:-33,max:33,...axisCommon(LAT_TICKS_A,latLabel,{afterFit:fixH(40)},false)},
   y:{type:'linear',min:-0.05,max:1.05,...axisCommon(COEF_TICKS,v=>v.toFixed(1),{afterFit:fixW(72)},true),title:{display:true,text:'Coefficient',font:{size:21.5},color:INK,padding:0}}}},
 plugins:[framePlugin]});

// ---------- (b)
const legendPlugin={id:'lg',afterDraw(c){const x=c.ctx;x.save();
  x.fillStyle='rgba(255,255,255,.85)';x.strokeStyle='#cccccc';x.lineWidth=1.2;
  x.beginPath();x.roundRect(97,52,254,67,4);x.fill();x.stroke();
  const cols=['#ff0000','#0000ff'],ys=[68,99];
  LEGEND_LABELS.forEach((t,i)=>{x.strokeStyle=cols[i];x.lineWidth=2.6;x.beginPath();x.moveTo(104,ys[i]);x.lineTo(151,ys[i]);x.stroke();
   x.fillStyle=INK;x.font='21.7px '+SERIF;x.textBaseline='middle';x.textAlign='left';x.fillText(t,166.5,ys[i]+1)});
  x.restore()}};
new Chart(document.getElementById('pb'),{type:'line',
 data:{datasets:[
  {label:'EXP_S',data:DAYS.map((d,i)=>({x:d,y:EXP_S[i]})),borderColor:'#ff0000',borderWidth:2.8,pointRadius:0,tension:0,order:2},
  {label:'EXP_F',data:DAYS.map((d,i)=>({x:d,y:EXP_F[i]})),borderColor:'#0000ff',borderWidth:2.8,pointRadius:0,tension:0,order:1}]},
 options:{layout:{padding:{left:0,right:20,top:0,bottom:4}},
  plugins:{legend:{display:false},tooltip:{enabled:false},title:titleOpt('(b) Evolutions of the PMM intensity index',7.4)},
  scales:{x:{type:'linear',min:-1.4,max:51.4,...axisCommon(DAY_TICKS,v=>String(v),{afterFit:fixH(70)},false),title:{display:true,text:'time (day)',font:{size:27},color:INK,padding:0}},
   y:{type:'linear',min:0.6694,max:0.7963,...axisCommon(SSTA_TICKS,v=>v.toFixed(2),{afterFit:fixW(86)},true),title:{display:true,text:'SSTA (K)',font:{size:21.5},color:INK,padding:0}}}},
 plugins:[framePlugin,legendPlugin]});

// ---------- (c),(d)
function mapChart(id,title,contours,U,V,padLeft,axisW,padRight,withKey){
  const sets=[];
  sets.push({data:closed(BOX),fill:'shape',backgroundColor:BIN_COLORS[6],tension:0});
  contours.forEach(([b,p])=>sets.push({data:closed(p),fill:'shape',backgroundColor:BIN_COLORS[b],tension:0.3}));
  // white cover of everything outside the model domain
  const mask=BOX.concat(OUTLINE,BOX.slice(0,2));
  sets.push({data:pairs(mask),fill:'shape',backgroundColor:'#ffffff',tension:0});
  const outlineIdx=sets.length;
  sets.push({data:pairs(OUTLINE.concat(OUTLINE.slice(2,4))),fill:false,borderColor:'#808080',borderWidth:7,borderJoinStyle:'bevel',tension:0});
  const greenIdx=sets.length;
  sets.push({data:pairs(GREEN_BOX),fill:false,borderColor:'#008000',borderWidth:4.6,borderJoinStyle:'miter',tension:0});
  sets.forEach((s,i)=>{s.showLine=true;s.pointRadius=0;if(!s.borderWidth)s.borderWidth=0;s.order=sets.length-i});
  const quiver={id:'quiver',afterDraw(c){
    const x=c.ctx,sx=c.scales.x,sy=c.scales.y,a=c.chartArea;
    x.save();
    // minor ticks
    x.strokeStyle='#1c1c1c';x.lineWidth=1.1;x.beginPath();
    LON_MINOR.forEach(v=>{const p=sx.getPixelForValue(v);x.moveTo(p,a.bottom);x.lineTo(p,a.bottom+3.5)});
    LAT_MINOR.forEach(v=>{const p=sy.getPixelForValue(v);x.moveTo(a.left,p);x.lineTo(a.left-3.5,p)});
    x.stroke();
    [outlineIdx,greenIdx].forEach(i=>c.getDatasetMeta(i).dataset.draw(x));
    x.fillStyle='#000';x.strokeStyle='#000';x.lineWidth=1.3;x.lineCap='butt';
    Q_LATS.forEach((la,r)=>Q_LONS.forEach((lo,k)=>drawArrow(x,sx.getPixelForValue(lo),sy.getPixelForValue(la),U[r][k]*PX_PER_CMS,-V[r][k]*PX_PER_CMS)));
    if(withKey){
      drawArrow(x,576,8,KEY_CMS*PX_PER_CMS,0);
      x.fillStyle=INK;x.font='26.8px '+SERIF;x.textAlign='right';x.textBaseline='middle';x.fillText('0.5 m/s',630,33.5);
    }
    x.restore()}};
  return new Chart(document.getElementById(id),{type:'scatter',data:{datasets:sets},
   options:{layout:{padding:{left:padLeft,right:padRight,top:0,bottom:0}},
    plugins:{legend:{display:false},tooltip:{enabled:false},title:titleOpt(title,16.4)},
    scales:{
     x:{type:'linear',min:120,max:280,...axisCommon(LON_TICKS,lonLabel,{afterFit:fixH(40)},false),grid:Object.assign({},GRID,{z:1})},
     y:{type:'linear',min:-30,max:30,...axisCommon(LAT_TICKS,latLabel,{afterFit:fixW(axisW)},true),grid:Object.assign({},GRID,{z:1})}}},
   plugins:[framePlugin,quiver]});
}
mapChart('pc','(c) EXP_S Pattern',CONTOURS_C,U_C,V_C,10,70,24,true);
mapChart('pd','(d) EXP_F Pattern',CONTOURS_D,U_D,V_D,10,76,19,false);

// ---------- colour bar
const cbEnds={id:'cbEnds',afterDraw(c){const a=c.chartArea,x=c.ctx,my=(a.top+a.bottom)/2;x.save();
  x.fillStyle=BIN_COLORS[0];x.beginPath();x.moveTo(a.left,a.top);x.lineTo(a.left-30,my);x.lineTo(a.left,a.bottom);x.closePath();x.fill();
  x.fillStyle=BIN_COLORS[13];x.beginPath();x.moveTo(a.right,a.top);x.lineTo(a.right+30,my);x.lineTo(a.right,a.bottom);x.closePath();x.fill();
  x.strokeStyle='#1c1c1c';x.lineWidth=1.1;x.beginPath();x.moveTo(a.left,a.top);x.lineTo(a.left-30,my);x.lineTo(a.left,a.bottom);x.lineTo(a.right,a.bottom);x.lineTo(a.right+30,my);x.lineTo(a.right,a.top);x.closePath();x.stroke();
  x.restore()}};
new Chart(document.getElementById('pe'),{type:'bar',
 data:{labels:[''],datasets:LEVELS.slice(0,-1).map((lo,i)=>({data:[[lo,LEVELS[i+1]]],backgroundColor:BIN_COLORS[i+1],borderWidth:0,grouped:false,barPercentage:1,categoryPercentage:1}))},
 options:{indexAxis:'y',layout:{padding:{left:383,right:361,top:12,bottom:0}},
  plugins:{legend:{display:false},tooltip:{enabled:false}},
  scales:{y:{display:false},
   x:{type:'linear',min:-0.65,max:0.65,grid:{drawOnChartArea:false,tickColor:'#1c1c1c',tickLength:7,tickWidth:1.2},border:{display:false},
    afterBuildTicks:setTicks(CB_TICKS),afterFit:fixH(69),
    ticks:{autoSkip:false,maxRotation:0,padding:3,font:{size:24},color:INK,callback:(v,i)=>CB_LABELS[i]},
    title:{display:true,text:'SSTA Pattern',font:{size:24.8},color:INK,padding:0}}}},
 plugins:[cbEnds]});
</script></body></html>
